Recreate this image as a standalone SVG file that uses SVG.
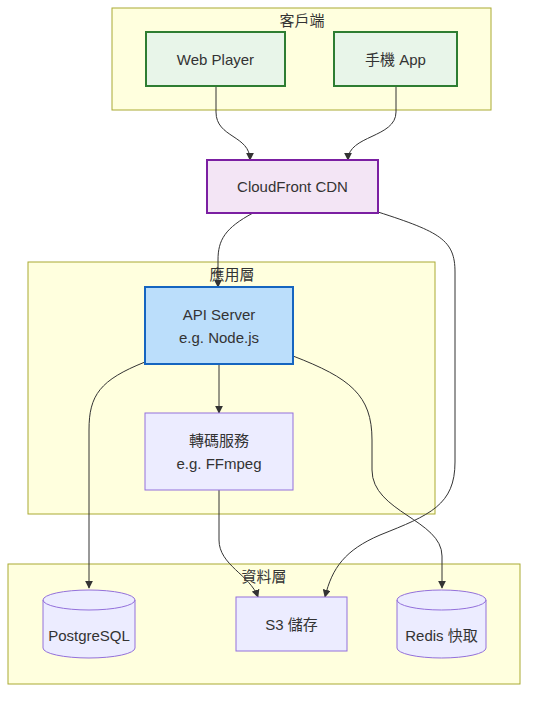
<svg xmlns="http://www.w3.org/2000/svg" width="536" height="702" viewBox="0 0 536 702">
<defs>
<marker id="arr" viewBox="0 0 10 10" refX="9" refY="5" markerWidth="8" markerHeight="8" markerUnits="userSpaceOnUse" orient="auto">
<path d="M0,0 L10,5 L0,10 z" fill="#333"/>
</marker>
<style>
.cluster{fill:#ffffde;stroke:#aaaa33;stroke-width:1}
.t{font-family:"Liberation Sans","Noto Sans CJK TC",sans-serif;font-size:15px;fill:#333;text-anchor:middle;dominant-baseline:central}
.client{fill:#e8f5e9;stroke:#2e7d32;stroke-width:2}
.cdn{fill:#f3e5f5;stroke:#7b1fa2;stroke-width:2}
.api{fill:#bbdefb;stroke:#1565c0;stroke-width:2}
.def{fill:#ececff;stroke:#9370db;stroke-width:1}
.edge{fill:none;stroke:#333;stroke-width:1;marker-end:url(#arr)}
</style>
</defs>
<rect width="536" height="702" fill="#ffffff"/>
<g id="cluster-client">
<rect class="cluster" x="112" y="8" width="379" height="102"/>
<text class="t" x="302" y="20">客戶端</text>
</g>
<g id="cluster-app">
<rect class="cluster" x="28" y="262" width="407" height="252"/>
<text class="t" x="232" y="274">應用層</text>
</g>
<g id="cluster-data">
<rect class="cluster" x="8" y="564" width="512" height="120"/>
<text class="t" x="264" y="576">資料層</text>
</g>
<g id="edges">
<path class="edge" d="M216,86 V112 C216,138 250,135 250,160"/>
<path class="edge" d="M396,86 V112 C396,138 348,135 348,160"/>
<path class="edge" d="M253,213 C225,228 218,240 218,260 V287"/>
<path class="edge" d="M378,212 C440,232 455,240 455,272 V462 C455,505 430,515 380,535 C345,550 332,568 325,597"/>
<path class="edge" d="M145,362 C100,380 89,395 89,430 V588"/>
<path class="edge" d="M293,356 C350,378 372,395 372,440 V470 C372,512 442,520 442,556 V588"/>
<path class="edge" d="M219,364 V413"/>
<path class="edge" d="M219,490 V540 C219,565 250,575 258,597"/>
</g>
<g id="web-player">
<rect class="client" x="146" y="32" width="139" height="54"/>
<text class="t" x="215.5" y="59">Web Player</text>
</g>
<g id="mobile-app">
<rect class="client" x="334" y="32" width="123" height="54"/>
<text class="t" x="395.5" y="59">手機 App</text>
</g>
<g id="cdn">
<rect class="cdn" x="207" y="160" width="171" height="53"/>
<text class="t" x="292.5" y="186">CloudFront CDN</text>
</g>
<g id="api-server">
<rect class="api" x="145" y="287" width="148" height="77"/>
<text class="t" x="219" y="314">API Server</text>
<text class="t" x="219" y="337">e.g. Node.js</text>
</g>
<g id="transcode">
<rect class="def" x="145" y="413" width="148" height="77"/>
<text class="t" x="219" y="440">轉碼服務</text>
<text class="t" x="219" y="463">e.g. FFmpeg</text>
</g>
<g id="postgres">
<path class="def" d="M43,600 a46,10 0 0 0 92,0 a46,10 0 0 0 -92,0 v48 a46,10 0 0 0 92,0 v-48"/>
<text class="t" x="89" y="635">PostgreSQL</text>
</g>
<g id="s3">
<rect class="def" x="236" y="597" width="111" height="54"/>
<text class="t" x="291.5" y="624">S3 儲存</text>
</g>
<g id="redis">
<path class="def" d="M397,600 a44.5,10 0 0 0 89,0 a44.5,10 0 0 0 -89,0 v48 a44.5,10 0 0 0 89,0 v-48"/>
<text class="t" x="441.5" y="635">Redis 快取</text>
</g>
</svg>
